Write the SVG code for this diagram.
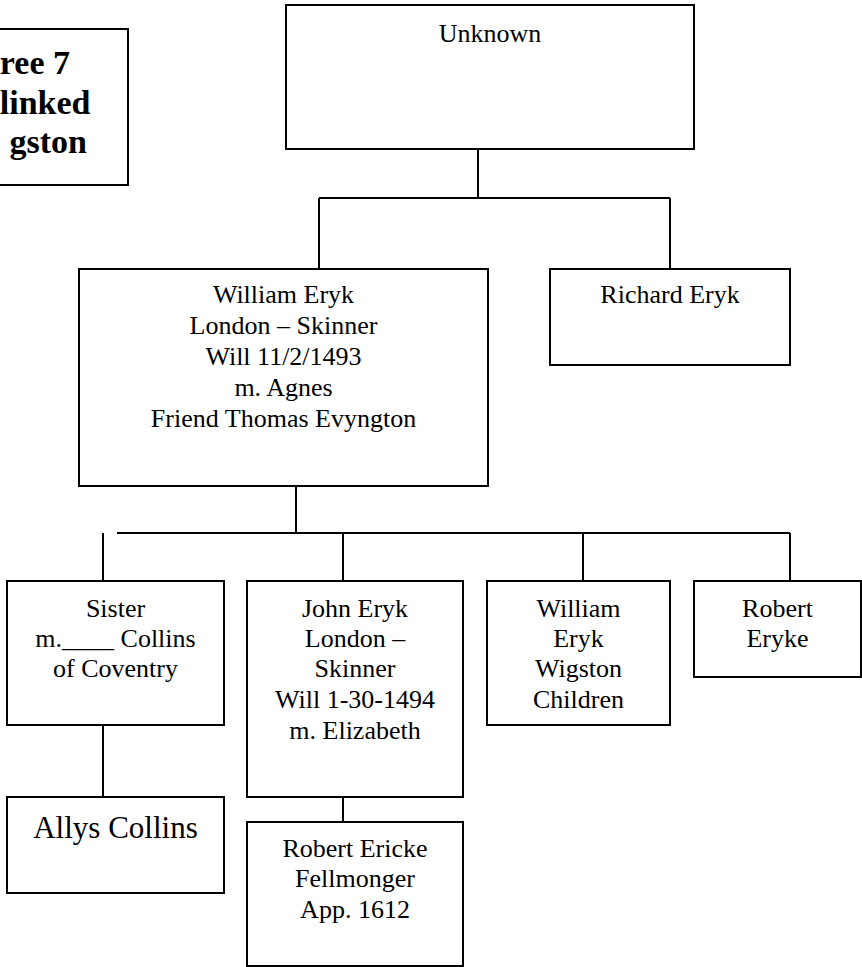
<svg xmlns="http://www.w3.org/2000/svg" width="862" height="967" viewBox="0 0 862 967">
<style>
rect.box{fill:#fff;stroke:#000;stroke-width:2}
text{font-family:"Liberation Serif","Times New Roman",serif;font-size:26px;fill:#000;text-anchor:middle}
text.title{font-weight:bold;font-size:34px;text-anchor:end}
text.big{font-size:31px}
#connectors line{stroke:#000;stroke-width:2}
</style>
<rect width="862" height="967" fill="#fff"/>
<g id="connectors">
<line x1="478" y1="149" x2="478" y2="198"/>
<line x1="319" y1="198" x2="670" y2="198"/>
<line x1="319" y1="198" x2="319" y2="269"/>
<line x1="670" y1="198" x2="670" y2="269"/>
<line x1="296" y1="486" x2="296" y2="533"/>
<line x1="117" y1="533" x2="790" y2="533"/>
<line x1="103" y1="533" x2="103" y2="581"/>
<line x1="343" y1="533" x2="343" y2="581"/>
<line x1="583" y1="533" x2="583" y2="581"/>
<line x1="790" y1="533" x2="790" y2="581"/>
<line x1="103" y1="725" x2="103" y2="797"/>
<line x1="343" y1="797" x2="343" y2="822"/>
</g>
<g id="title">
<rect class="box" x="-10" y="29" width="138" height="156"/>
<text class="title" x="70" y="74">ree 7</text>
<text class="title" x="90.5" y="114">linked</text>
<text class="title" x="87" y="153">gston</text>
</g>
<g id="unknown">
<rect class="box" x="286" y="5" width="408" height="144"/>
<text x="490" y="42">Unknown</text>
</g>
<g id="william">
<rect class="box" x="79" y="269" width="409" height="217"/>
<text x="283.5" y="303">William Eryk</text>
<text x="283.5" y="334">London – Skinner</text>
<text x="283.5" y="365">Will 11/2/1493</text>
<text x="283.5" y="396">m. Agnes</text>
<text x="283.5" y="427">Friend Thomas Evyngton</text>
</g>
<g id="richard">
<rect class="box" x="550" y="269" width="240" height="96"/>
<text x="670" y="303">Richard Eryk</text>
</g>
<g id="sister">
<rect class="box" x="7" y="581" width="217" height="144"/>
<text x="115.5" y="617">Sister</text>
<text x="115.5" y="647">m.____ Collins</text>
<text x="115.5" y="677">of Coventry</text>
</g>
<g id="john">
<rect class="box" x="247" y="581" width="216" height="216"/>
<text x="355" y="617">John Eryk</text>
<text x="355" y="647">London –</text>
<text x="355" y="677">Skinner</text>
<text x="355" y="708">Will 1-30-1494</text>
<text x="355" y="739">m. Elizabeth</text>
</g>
<g id="william-wigston">
<rect class="box" x="487" y="581" width="183" height="144"/>
<text x="578.5" y="617">William</text>
<text x="578.5" y="647">Eryk</text>
<text x="578.5" y="677">Wigston</text>
<text x="578.5" y="708">Children</text>
</g>
<g id="robert-eryke">
<rect class="box" x="694" y="581" width="167" height="96"/>
<text x="777.5" y="617">Robert</text>
<text x="777.5" y="647">Eryke</text>
</g>
<g id="allys">
<rect class="box" x="7" y="797" width="217" height="96"/>
<text class="big" x="115.5" y="838">Allys Collins</text>
</g>
<g id="robert-ericke">
<rect class="box" x="247" y="822" width="216" height="144"/>
<text x="355" y="857">Robert Ericke</text>
<text x="355" y="887">Fellmonger</text>
<text x="355" y="918">App. 1612</text>
</g>
</svg>
